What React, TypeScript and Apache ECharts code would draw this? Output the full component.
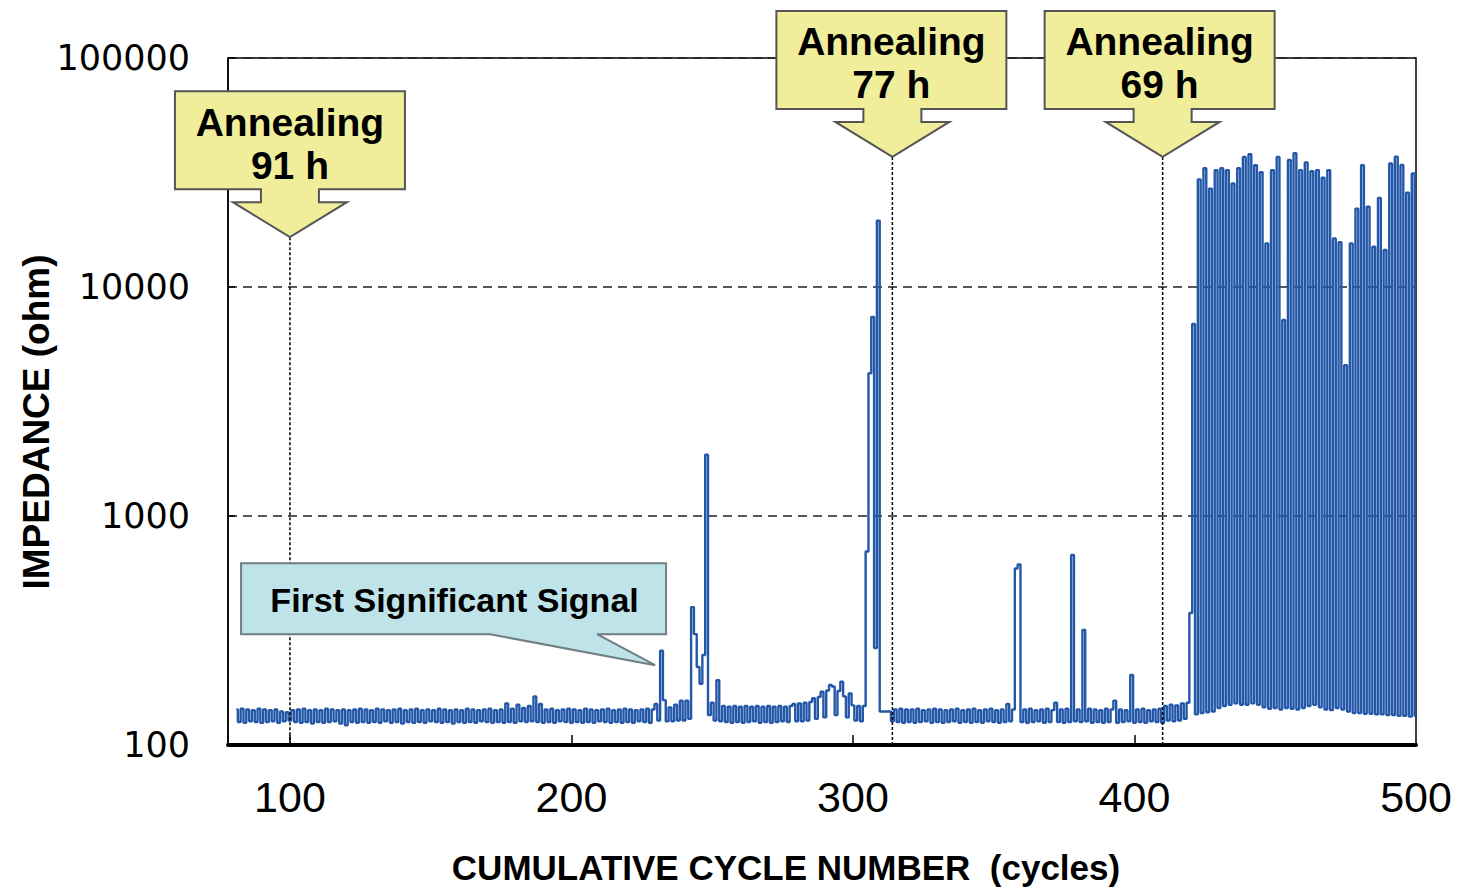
import React, { useEffect, useRef } from "react";
import * as echarts from "echarts";

// ---------- data ----------
const FIRST_CYCLE = 81;

// impedance (ohm), one value per cycle, cycles 81..120
const imp081_120 = [
  143, 126, 144, 125, 143, 127, 142, 126, 144, 125, 143, 126, 142, 127, 143, 125, 140, 127, 139, 128,
  142, 126, 143, 125, 144, 126, 142, 124, 143, 126, 142, 125, 144, 126, 143, 127, 142, 124, 143, 122,
];
// cycles 121..160
const imp121_160 = [
  142, 126, 143, 125, 144, 126, 143, 125, 142, 126, 144, 125, 143, 127, 142, 125, 143, 126, 144, 124,
  142, 126, 143, 125, 144, 126, 142, 125, 143, 127, 142, 126, 144, 125, 143, 126, 142, 124, 143, 126,
];
// cycles 161..200
const imp161_200 = [
  142, 125, 144, 126, 143, 125, 142, 127, 143, 126, 144, 125, 142, 126, 143, 125, 152, 126, 144, 125,
  150, 127, 145, 126, 148, 127, 163, 126, 151, 125, 143, 126, 144, 125, 142, 127, 143, 126, 144, 125,
];
// cycles 201..240
const imp201_240 = [
  143, 126, 142, 125, 144, 126, 143, 125, 142, 127, 143, 126, 144, 125, 142, 126, 143, 125, 144, 126,
  143, 125, 142, 127, 143, 126, 144, 125, 143, 151, 128, 258, 157, 127, 146, 127, 150, 128, 156, 128,
];
// cycles 241..280
const imp241_280 = [
  156, 130, 400, 305, 219, 185, 247, 1850, 135, 153, 128, 192, 127, 148, 126, 147, 125, 148, 126, 147,
  125, 148, 126, 147, 127, 148, 125, 147, 126, 148, 125, 147, 126, 148, 127, 147, 126, 148, 151, 127,
];
// cycles 281..320
const imp281_320 = [
  152, 127, 153, 128, 154, 160, 130, 162, 171, 132, 173, 183, 180, 135, 172, 189, 163, 132, 168, 149,
  128, 148, 127, 148, 700, 4200, 7400, 265, 19500, 140, 140, 140, 140, 127, 143, 126, 144, 125, 143, 126,
];
// cycles 321..360
const imp321_360 = [
  143, 125, 144, 126, 142, 127, 143, 125, 144, 126, 143, 125, 142, 126, 143, 127, 144, 125, 142, 126,
  143, 125, 144, 126, 142, 125, 143, 127, 144, 126, 142, 125, 143, 126, 151, 127, 143, 590, 615, 126,
];
// cycles 361..400
const imp361_400 = [
  143, 125, 144, 126, 142, 127, 143, 125, 144, 126, 142, 153, 126, 143, 125, 144, 126, 676, 127, 143,
  126, 318, 127, 144, 125, 143, 126, 142, 125, 144, 126, 143, 156, 125, 143, 126, 142, 127, 202, 125,
];
// cycles 401..420
const imp401_420 = [
  143, 126, 144, 125, 142, 127, 143, 126, 144, 125, 148, 128, 150, 127, 149, 128, 152, 130, 153, 377,
];
// cycles 421..460
const imp421_460 = [
  6890, 136, 29500, 138, 33000, 139, 26900, 140, 32400, 145, 33000, 148, 32400, 150, 28300, 152, 33000, 150, 37000, 150,
  38000, 152, 34000, 150, 31700, 146, 15500, 144, 32400, 145, 37000, 143, 7180, 145, 35900, 144, 38400, 143, 32400, 145,
];
// cycles 461..500
const imp461_500 = [
  35000, 148, 32000, 150, 32400, 146, 30000, 143, 32400, 142, 16300, 145, 15700, 143, 4560, 140, 15500, 138, 22000, 138,
  34000, 137, 22400, 137, 15000, 136, 24500, 136, 14500, 135, 34600, 135, 37100, 134, 34100, 134, 25800, 133, 31300, 134,
];

const impedanceSegments = [
  imp081_120, imp121_160, imp161_200, imp201_240, imp241_280,
  imp281_320, imp321_360, imp361_400, imp401_420, imp421_460, imp461_500,
];

const xMin = 78;
const xMax = 500;
const xLabelValues = [100, 200, 300, 400, 500];
const xTickValues = [100, 200, 300, 400];
const yMin = 100;
const yMax = 100000;

const annealCycles = [100, 314, 410];
const annealHours = ["91 h", "77 h", "69 h"];
const annealTipValues = [16500, 37000, 37000];
const annealBoxShift = [0, -1, -3];

const signalTip = [229.7, 223];
const signalText = "First Significant Signal";

const xTitle = "CUMULATIVE CYCLE NUMBER  (cycles)";
const yTitle = "IMPEDANCE (ohm)";

// ---------- component ----------
export default function App() {
  const ref = useRef<HTMLDivElement>(null);

  useEffect(() => {
    document.body.style.margin = "0";
    if (!ref.current) return;
    const chart = echarts.init(ref.current, undefined, { renderer: "svg" });

    const seriesData: [number, number][] = [];
    let c = FIRST_CYCLE;
    impedanceSegments.forEach((seg) => {
      seg.forEach((v) => {
        seriesData.push([c, v]);
        c += 1;
      });
    });

    chart.setOption({
      animation: false,
      grid: {
        left: 228,
        right: 42,
        top: 58,
        bottom: 144,
        show: true,
        borderColor: "#000",
        borderWidth: 1.5,
      },
      xAxis: {
        type: "value",
        min: xMin,
        max: xMax,
        axisLine: { show: true, onZero: false, lineStyle: { color: "#000", width: 4 } },
        axisTick: {
          show: true,
          inside: true,
          length: 10,
          customValues: xTickValues,
          lineStyle: { color: "#000", width: 1.5 },
        },
        axisLabel: {
          customValues: xLabelValues,
          color: "#000",
          fontSize: 43,
          fontFamily: "'Liberation Sans', Arial, sans-serif",
          margin: 30,
        },
        splitLine: { show: false },
      },
      yAxis: {
        type: "log",
        logBase: 10,
        min: yMin,
        max: yMax,
        axisLine: { show: true, lineStyle: { color: "#000", width: 1.5 } },
        axisTick: { show: true, inside: true, length: 7, lineStyle: { color: "#000", width: 1.5 } },
        axisLabel: {
          color: "#000",
          fontSize: 35,
          fontFamily: "'DejaVu Sans', sans-serif",
          margin: 38,
          formatter: (v: number) => String(Math.round(v)),
        },
        splitLine: { show: true, lineStyle: { type: [9, 6], color: "#222", width: 1.5 } },
        minorTick: { show: false },
      },
      series: [
        {
          type: "line",
          step: "middle",
          showSymbol: false,
          data: seriesData,
          lineStyle: { color: "#2357A8", width: 2.4 },
          itemStyle: { color: "#2357A8" },
        },
      ],
    });

    const px = (x: number, y: number) =>
      chart.convertToPixel({ gridIndex: 0 }, [x, y]) as number[];
    const bottomY = px(xMin, yMin)[1];

    const graphics: any[] = [];

    // dotted annealing lines
    annealCycles.forEach((cy, i) => {
      const [tx, ty] = px(cy, annealTipValues[i]);
      graphics.push({
        type: "line",
        shape: { x1: tx, y1: ty, x2: tx, y2: bottomY - 2 },
        style: { stroke: "#000", lineWidth: 1.5, lineDash: [3, 2] },
        z: 10,
      });
    });

    // first significant signal callout
    {
      const [sx, sy] = px(signalTip[0], signalTip[1]);
      const L = sx - 414, R = sx + 11, T = sy - 102, B = sy - 31;
      graphics.push({
        type: "polygon",
        shape: {
          points: [
            [L, T], [R, T], [R, B], [sx - 58, B], [sx, sy], [sx - 165, B], [L, B],
          ],
        },
        style: { fill: "#BEE3E8", stroke: "#6F7F82", lineWidth: 2 },
        z: 20,
      });
      graphics.push({
        type: "text",
        x: (L + R) / 2 + 1,
        y: (T + B) / 2 + 1,
        style: {
          text: signalText,
          fill: "#000",
          font: "bold 34px 'Liberation Sans', Arial, sans-serif",
          align: "center",
          verticalAlign: "middle",
        },
        z: 21,
      });
    }

    // annealing callouts
    annealCycles.forEach((cy, i) => {
      const [tx, ty] = px(cy, annealTipValues[i]);
      const bx = tx + annealBoxShift[i];
      const shoulder = ty - 35;
      const bottom = shoulder - 13;
      const top = bottom - 98;
      graphics.push({
        type: "polygon",
        shape: {
          points: [
            [bx - 115, top], [bx + 115, top], [bx + 115, bottom], [tx + 29, bottom],
            [tx + 29, shoulder], [tx + 57, shoulder], [tx, ty], [tx - 57, shoulder],
            [tx - 29, shoulder], [tx - 29, bottom], [bx - 115, bottom],
          ],
        },
        style: { fill: "#F0EE9B", stroke: "#555", lineWidth: 2 },
        z: 20,
      });
      graphics.push({
        type: "text",
        x: bx,
        y: top + 31,
        style: {
          text: "Annealing",
          fill: "#000",
          font: "bold 39px 'Liberation Sans', Arial, sans-serif",
          align: "center",
          verticalAlign: "middle",
        },
        z: 21,
      });
      graphics.push({
        type: "text",
        x: bx,
        y: top + 74,
        style: {
          text: annealHours[i],
          fill: "#000",
          font: "bold 39px 'Liberation Sans', Arial, sans-serif",
          align: "center",
          verticalAlign: "middle",
        },
        z: 21,
      });
    });

    // axis titles
    graphics.push({
      type: "text",
      x: 786,
      y: 867,
      style: {
        text: xTitle,
        fill: "#000",
        font: "bold 35px 'Liberation Sans', Arial, sans-serif",
        align: "center",
        verticalAlign: "middle",
      },
    });
    graphics.push({
      type: "text",
      x: 36,
      y: 422,
      rotation: Math.PI / 2,
      style: {
        text: yTitle,
        fill: "#000",
        font: "bold 37px 'Liberation Sans', Arial, sans-serif",
        align: "center",
        verticalAlign: "middle",
      },
    });

    chart.setOption({ graphic: { elements: graphics } });

    return () => {
      chart.dispose();
    };
  }, []);

  return <div ref={ref} style={{ width: 1458, height: 889 }} />;
}
